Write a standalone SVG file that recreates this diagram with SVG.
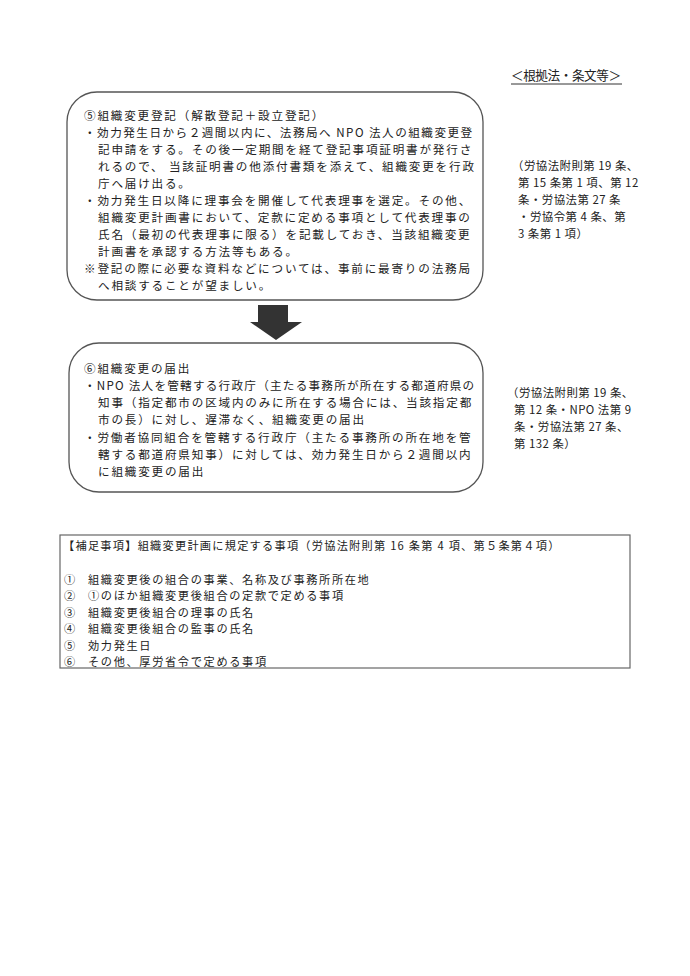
<svg xmlns="http://www.w3.org/2000/svg" width="690" height="976" viewBox="0 0 690 976">
<style>
text{font-family:"Noto Sans CJK JP","Noto Sans",sans-serif;font-size:11.6px;letter-spacing:1.8px;fill:#222}
.box{fill:none;stroke:#555;stroke-width:1.3}
.ann{font-size:11.4px;letter-spacing:0.5px}
.hd{font-size:12.6px;letter-spacing:0}
.sup{font-size:11.2px;letter-spacing:1.65px}
</style>
<rect width="690" height="976" fill="#fff"/>
<g id="header">
<text x="511" y="80" class="hd" textLength="110" lengthAdjust="spacing">＜根拠法・条文等＞</text>
<line x1="511" y1="84" x2="622" y2="84" stroke="#333" stroke-width="1"/>
</g>
<g id="node5">
<rect class="box" x="67" y="92" width="416" height="208" rx="30" ry="30"/>
<text x="84" y="120">⑤組織変更登記（解散登記＋設立登記）</text>
<text x="84" y="137" textLength="390" lengthAdjust="spacing">・効力発生日から２週間以内に、法務局へ NPO 法人の組織変更登</text>
<text x="98" y="154">記申請をする。その後一定期間を経て登記事項証明書が発行さ</text>
<text x="98" y="171">れるので、 当該証明書の他添付書類を添えて、組織変更を行政</text>
<text x="98" y="188">庁へ届け出る。</text>
<text x="84" y="205">・効力発生日以降に理事会を開催して代表理事を選定。その他、</text>
<text x="98" y="222">組織変更計画書において、定款に定める事項として代表理事の</text>
<text x="98" y="239">氏名（最初の代表理事に限る）を記載しておき、当該組織変更</text>
<text x="98" y="256">計画書を承認する方法等もある。</text>
<text x="84" y="273">※登記の際に必要な資料などについては、事前に最寄りの法務局</text>
<text x="98" y="290">へ相談することが望ましい。</text>
</g>
<g id="ref5">
<text x="512" y="170" class="ann">（労協法附則第 19 条、</text>
<text x="518" y="187" class="ann">第 15 条第 1 項、第 12</text>
<text x="518" y="204" class="ann">条・労協法第 27 条</text>
<text x="518" y="221" class="ann">・労協令第 4 条、第</text>
<text x="518" y="238" class="ann">3 条第 1 項）</text>
</g>
<g id="connectors">
<polygon points="258,305 288,305 288,322 302,322 276,340 250,322 258,322" fill="#333"/>
</g>
<g id="node6">
<rect class="box" x="69" y="343" width="414" height="149" rx="30" ry="30"/>
<text x="84" y="373">⑥組織変更の届出</text>
<text x="84" y="390" textLength="392" lengthAdjust="spacing">・NPO 法人を管轄する行政庁（主たる事務所が所在する都道府県の</text>
<text x="98" y="407">知事（指定都市の区域内のみに所在する場合には、当該指定都</text>
<text x="98" y="424">市の長）に対し、遅滞なく、組織変更の届出</text>
<text x="84" y="442">・労働者協同組合を管轄する行政庁（主たる事務所の所在地を管</text>
<text x="98" y="459">轄する都道府県知事）に対しては、効力発生日から２週間以内</text>
<text x="98" y="476">に組織変更の届出</text>
</g>
<g id="ref6">
<text x="507" y="397" class="ann">（労協法附則第 19 条、</text>
<text x="514" y="414" class="ann">第 12 条・NPO 法第 9</text>
<text x="514" y="431" class="ann">条・労協法第 27 条、</text>
<text x="514" y="448" class="ann">第 132 条）</text>
</g>
<g id="supplement">
<rect x="60" y="535" width="570" height="133" fill="none" stroke="#666" stroke-width="1.2"/>
<text x="63" y="550" class="sup" textLength="498" lengthAdjust="spacing">【補足事項】組織変更計画に規定する事項（労協法附則第 16 条第 4 項、第５条第４項）</text>
<text x="64" y="584" class="sup">①</text><text x="88" y="584" class="sup">組織変更後の組合の事業、名称及び事務所所在地</text>
<text x="64" y="600" class="sup">②</text><text x="88" y="600" class="sup">①のほか組織変更後組合の定款で定める事項</text>
<text x="64" y="617" class="sup">③</text><text x="88" y="617" class="sup">組織変更後組合の理事の氏名</text>
<text x="64" y="633" class="sup">④</text><text x="88" y="633" class="sup">組織変更後組合の監事の氏名</text>
<text x="64" y="650" class="sup">⑤</text><text x="88" y="650" class="sup">効力発生日</text>
<text x="64" y="666" class="sup">⑥</text><text x="88" y="666" class="sup">その他、厚労省令で定める事項</text>
</g>
</svg>
